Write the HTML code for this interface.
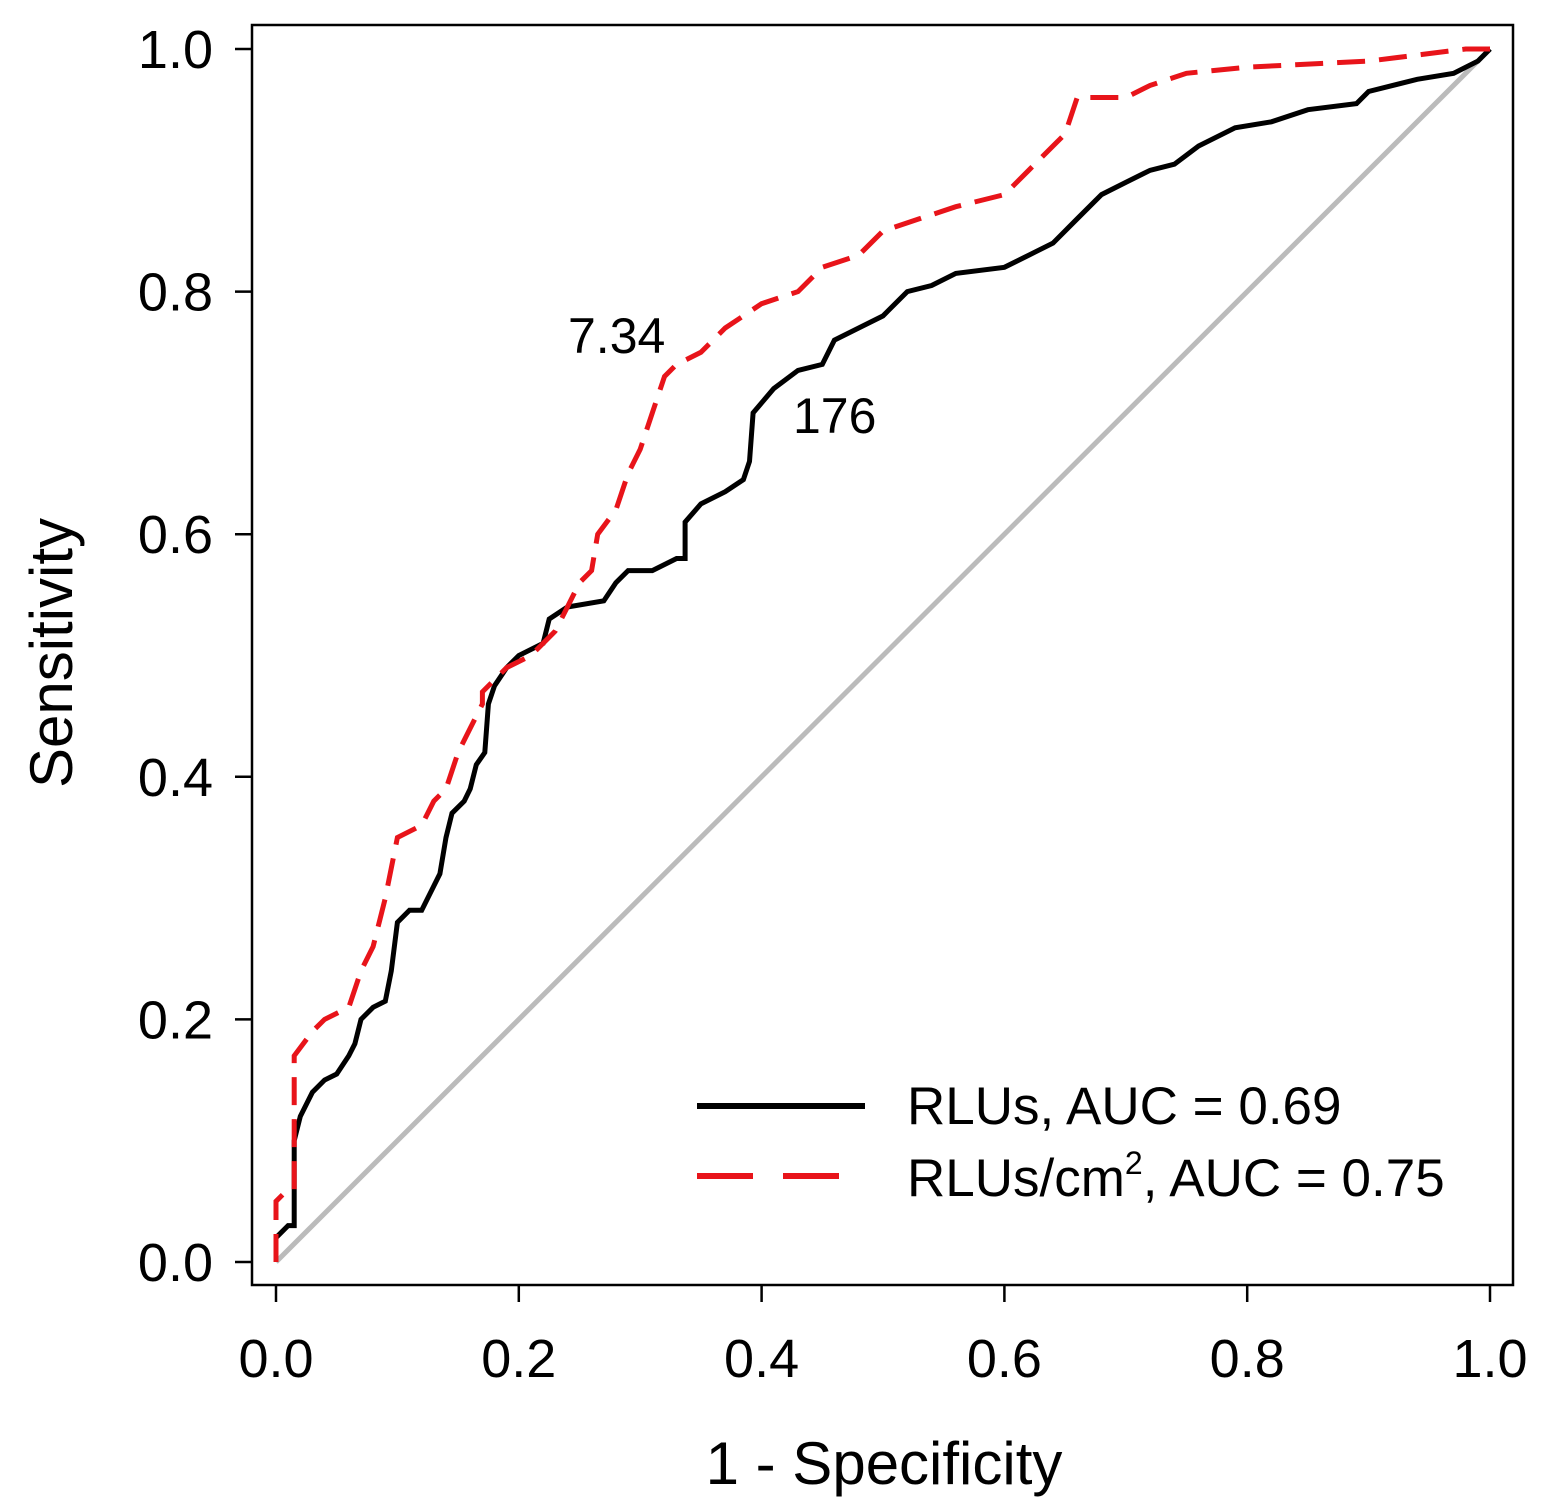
<!DOCTYPE html>
<html><head><meta charset="utf-8"><style>
html,body{margin:0;padding:0;background:#fff;}
svg{display:block;font-family:"Liberation Sans",Arial,sans-serif;}
</style></head><body>
<svg id="chart" width="1544" height="1511" viewBox="0 0 1544 1511">
<rect x="252" y="25" width="1261" height="1260" fill="none" stroke="#000" stroke-width="2.5"/>
<g id="axes"></g>
<line x1="276" y1="1262" x2="1490" y2="49" stroke="#bbb" stroke-width="5"/>
<path id="black" fill="none" stroke="#000" stroke-width="5"/>
<path id="red" fill="none" stroke="#e8141a" stroke-width="5" stroke-dasharray="28,14"/>
<text x="568" y="353" font-size="50">7.34</text>
<text x="793" y="433" font-size="50">176</text>
<text x="884" y="1484" font-size="60" text-anchor="middle">1 - Specificity</text>
<text transform="translate(72,653) rotate(-90)" font-size="60" text-anchor="middle">Sensitivity</text>
<g>
<line x1="697" y1="1106" x2="865" y2="1106" stroke="#000" stroke-width="6"/>
<text x="907" y="1124" font-size="53">RLUs, AUC = 0.69</text>
<line x1="697" y1="1176" x2="865" y2="1176" stroke="#e8141a" stroke-width="6" stroke-dasharray="56,30"/>
<text x="907" y="1196" font-size="53">RLUs/cm<tspan dy="-22" font-size="32">2</tspan><tspan dy="22">, AUC = 0.75</tspan></text>
</g>
</svg>
<script>
const xTicks=[0,0.2,0.4,0.6,0.8,1.0];
const yTicks=[0,0.2,0.4,0.6,0.8,1.0];
const tickLabels=["0.0","0.2","0.4","0.6","0.8","1.0"];
const rlusFpr=[0,0,0.01,0.015,0.015,0.02,0.03,0.04,0.05,0.06,0.065,0.07,0.08,0.09,0.095,0.1,0.11,0.12,0.13,0.135,0.14,0.145,0.155,0.16,0.165,0.172,0.175,0.18,0.19,0.2,0.22,0.225,0.24,0.27,0.28,0.29,0.31,0.33,0.337,0.337,0.35,0.37,0.385,0.39,0.393,0.41,0.43,0.45,0.46,0.48,0.5,0.52,0.54,0.56,0.6,0.62,0.64,0.66,0.68,0.7,0.72,0.74,0.76,0.79,0.82,0.85,0.89,0.9,0.94,0.97,0.99,1];
const rlusTpr=[0,0.02,0.03,0.03,0.1,0.12,0.14,0.15,0.155,0.17,0.18,0.2,0.21,0.215,0.24,0.28,0.29,0.29,0.31,0.32,0.35,0.37,0.38,0.39,0.41,0.42,0.46,0.475,0.49,0.5,0.51,0.53,0.54,0.545,0.56,0.57,0.57,0.58,0.58,0.61,0.625,0.635,0.645,0.66,0.7,0.72,0.735,0.74,0.76,0.77,0.78,0.8,0.805,0.815,0.82,0.83,0.84,0.86,0.88,0.89,0.9,0.905,0.92,0.935,0.94,0.95,0.955,0.965,0.975,0.98,0.99,1];
const cm2Fpr=[0,0,0.01,0.015,0.015,0.03,0.04,0.06,0.07,0.08,0.09,0.1,0.12,0.13,0.14,0.15,0.16,0.17,0.17,0.19,0.21,0.23,0.24,0.25,0.26,0.265,0.28,0.29,0.3,0.31,0.32,0.33,0.35,0.37,0.4,0.43,0.45,0.48,0.5,0.53,0.56,0.6,0.62,0.64,0.65,0.66,0.7,0.72,0.75,0.8,0.9,0.98,1];
const cm2Tpr=[0,0.05,0.06,0.06,0.17,0.19,0.2,0.21,0.24,0.26,0.3,0.35,0.36,0.38,0.39,0.42,0.44,0.46,0.47,0.49,0.5,0.52,0.54,0.56,0.57,0.6,0.62,0.65,0.67,0.7,0.73,0.74,0.75,0.77,0.79,0.8,0.82,0.83,0.85,0.86,0.87,0.88,0.9,0.92,0.93,0.96,0.96,0.97,0.98,0.985,0.99,1,1];
const sx=v=>276+v*1214, sy=v=>1262-v*1213;
const NS="http://www.w3.org/2000/svg";
const axes=document.getElementById('axes');
xTicks.forEach((v,i)=>{
 const l=document.createElementNS(NS,'line');
 l.setAttribute('x1',sx(v));l.setAttribute('x2',sx(v));l.setAttribute('y1',1285);l.setAttribute('y2',1302);
 l.setAttribute('stroke','#000');l.setAttribute('stroke-width','2.5');
 
 
 axes.appendChild(l);
 const t=document.createElementNS(NS,'text');
 t.setAttribute('x',sx(v));t.setAttribute('y',1377);t.setAttribute('font-size','54');t.setAttribute('text-anchor','middle');
 t.textContent=tickLabels[i];
 
 
 axes.appendChild(t);
});
yTicks.forEach((v,i)=>{
 const l=document.createElementNS(NS,'line');
 l.setAttribute('x1',235);l.setAttribute('x2',252);l.setAttribute('y1',sy(v));l.setAttribute('y2',sy(v));
 l.setAttribute('stroke','#000');l.setAttribute('stroke-width','2.5');
 
 
 axes.appendChild(l);
 const t=document.createElementNS(NS,'text');
 t.setAttribute('x',213);t.setAttribute('y',sy(v)+19);t.setAttribute('font-size','54');t.setAttribute('text-anchor','end');
 t.textContent=tickLabels[i];
 
 
 axes.appendChild(t);
});
function path(xs,ys){return xs.map((x,i)=>(i?'L':'M')+sx(x).toFixed(1)+','+sy(ys[i]).toFixed(1)).join(' ');}
document.getElementById('black').setAttribute('d',path(rlusFpr,rlusTpr));
document.getElementById('red').setAttribute('d',path(cm2Fpr,cm2Tpr));
</script>
</body></html>
